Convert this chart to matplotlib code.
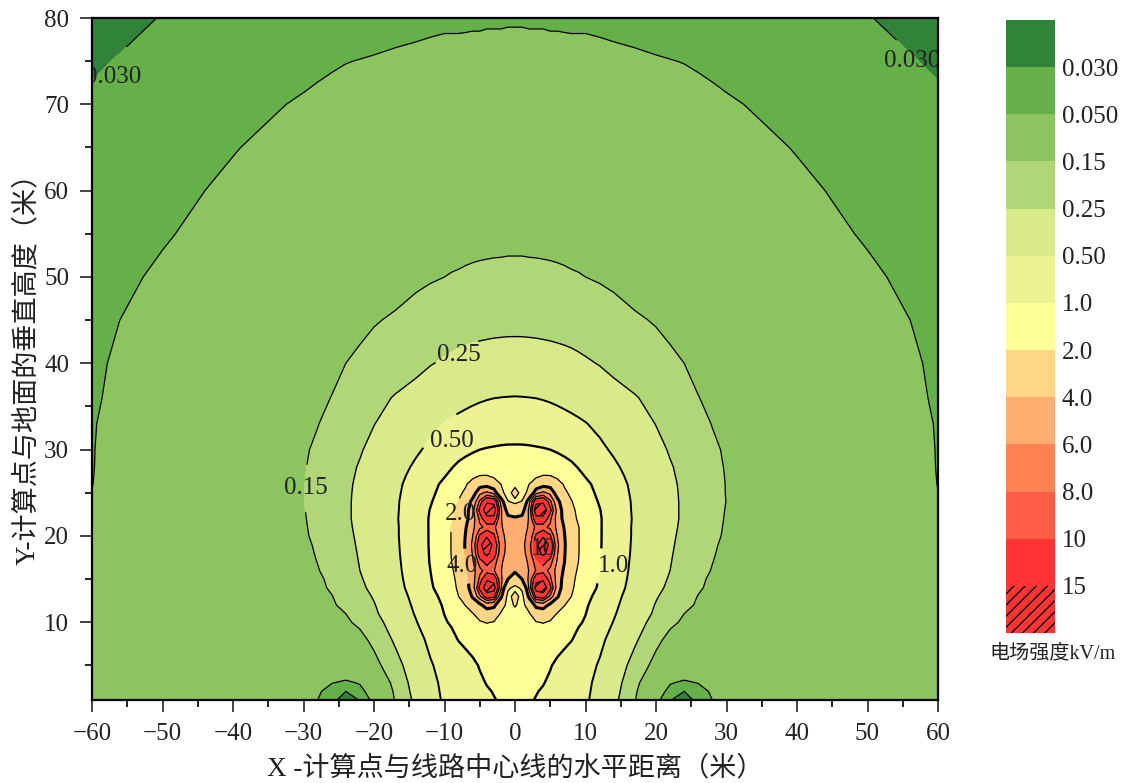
import numpy as np
import matplotlib
matplotlib.use("Agg")
import matplotlib.pyplot as plt
from matplotlib.ticker import MultipleLocator

plt.rcParams['font.family'] = ['Liberation Serif', 'Noto Sans CJK SC', 'DejaVu Sans']
plt.rcParams['hatch.linewidth'] = 1.0
plt.rcParams['contour.negative_linestyle'] = 'solid'

# contour levels (kV/m) and their labels
levels = [0.03, 0.05, 0.15, 0.25, 0.5, 1, 2, 4, 6, 8, 10, 15]
level_labels = ["0.030", "0.050", "0.15", "0.25", "0.50", "1.0", "2.0", "4.0", "6.0", "8.0", "10", "15"]
band_colors = ["#32833a", "#66b04a", "#8cc45f", "#b0d677", "#d8ea8a", "#edf392", "#ffff99",
               "#ffd685", "#ffad70", "#ff8255", "#ff5d48", "#ff3535", "#ff3535"]
line_widths = [0.9, 0.9, 0.9, 1.0, 1.4, 1.7, 0.9, 2.2, 0.9, 0.9, 0.9, 0.9]

# field, x >= 0 only (the chart is mirrored about x = 0)
x_half = [0, 1, 2, 3, 4, 5, 6, 7, 8, 9, 10, 12, 14, 17, 20, 22, 24, 26, 28, 30, 40, 50, 60]
y_vals = [1, 2, 3, 5, 8, 10, 11, 12, 13, 14, 15, 16, 17, 18, 19, 20, 21, 22, 23, 24, 25, 26, 27, 28,
          30, 33, 36, 40, 45, 50, 55, 60, 65, 70, 75, 80]
field_half = [
    [1.12, 1.09, 1.04, .98, .91, .84, .78, .72, .665, .61, .54, .40, .285, .155, .06, .031, .022, .036, .05, .06, .078, .072, .062],
    [1.13, 1.11, 1.07, 1.02, .96, .88, .80, .74, .67, .62, .55, .42, .30, .165, .066, .043, .030, .041, .054, .064, .08, .073, .063],
    [1.14, 1.12, 1.09, 1.06, 1.02, .93, .84, .76, .69, .63, .56, .436, .311, .177, .085, .052, .046, .051, .062, .07, .083, .075, .064],
    [1.17, 1.16, 1.14, 1.12, 1.09, 1.03, .91, .82, .74, .67, .60, .476, .342, .208, .127, .092, .08, .082, .085, .088, .09, .08, .068],
    [1.28, 1.28, 1.3, 1.32, 1.33, 1.3, 1.22, 1.12, 1.02, .89, .76, .564, .419, .269, .17, .13, .107, .1, .098, .098, .088, .076, .063],
    [1.4, 1.4, 1.6, 1.95, 2.05, 1.9, 1.55, 1.3, 1.15, 1.05, .96, .66, .49, .31, .21, .165, .14, .125, .115, .105, .082, .066, .057],
    [1.7, 1.6, 1.9, 2.85, 3.0, 2.5, 1.95, 1.6, 1.3, 1.1, 1.01, .738, .526, .341, .23, .17, .15, .137, .125, .117, .085, .067, .057],
    [2.1, 1.7, 2.6, 4.6, 5.0, 3.6, 2.7, 2.05, 1.6, 1.3, 1.06, .80, .558, .361, .243, .2, .165, .143, .13, .12, .087, .068, .0575],
    [2.4, 1.7, 4.5, 11, 12, 7.5, 4.3, 2.7, 2.0, 1.5, 1.15, .85, .59, .385, .26, .21, .175, .148, .134, .123, .089, .069, .058],
    [1.75, 2.2, 6.5, 18, 20, 11, 5.2, 3.2, 2.2, 1.65, 1.3, .93, .64, .406, .28, .228, .19, .157, .138, .127, .09, .07, .058],
    [3.0, 4.0, 6.5, 13, 14, 8.5, 5.2, 3.4, 2.3, 1.75, 1.35, .97, .67, .42, .29, .24, .195, .163, .14, .13, .092, .071, .0585],
    [4.3, 4.9, 6.1, 8.2, 8.8, 7.5, 5.3, 3.75, 2.55, 1.85, 1.4, 1.0, .70, .43, .30, .25, .20, .17, .147, .132, .094, .072, .059],
    [4.8, 5.2, 6.3, 9.2, 11, 9, 5.8, 4.05, 2.75, 2.0, 1.45, 1.03, .71, .44, .31, .255, .21, .175, .151, .135, .096, .073, .0595],
    [5.1, 5.4, 6.8, 12, 17, 12, 6.2, 4.15, 2.85, 2.05, 1.5, 1.04, .72, .45, .32, .26, .215, .18, .154, .138, .098, .074, .06],
    [5.3, 5.5, 7, 13, 22, 13, 6.5, 4.2, 2.9, 2.05, 1.55, 1.05, .73, .455, .325, .265, .22, .185, .157, .14, .1, .074, .059],
    [5.3, 5.5, 6.5, 10.5, 14, 10.5, 6.0, 4.1, 2.85, 2.05, 1.55, 1.05, .74, .46, .335, .27, .225, .19, .162, .143, .1, .074, .058],
    [5.0, 5.3, 6.2, 8.6, 8.5, 7.6, 5.6, 3.9, 2.7, 2.05, 1.5, 1.05, .745, .46, .34, .275, .23, .195, .166, .144, .101, .074, .0565],
    [4.3, 4.5, 6.2, 13, 13, 8.5, 5.2, 3.5, 2.45, 1.85, 1.4, 1.05, .75, .466, .343, .28, .233, .2, .171, .145, .102, .074, .055],
    [2.95, 3.3, 6.5, 20, 20, 11, 5.4, 3.3, 2.3, 1.75, 1.35, 1.02, .74, .46, .342, .28, .233, .2, .172, .147, .103, .074, .054],
    [1.75, 2.05, 5.5, 13, 14, 8.5, 4.6, 2.9, 2.05, 1.65, 1.3, .96, .72, .457, .34, .279, .233, .2, .173, .149, .105, .0736, .053],
    [2.6, 1.6, 2.35, 5.5, 6.5, 5.5, 3.2, 2.2, 1.8, 1.45, 1.2, .90, .68, .447, .335, .276, .232, .2, .172, .148, .105, .074, .0502],
    [1.7, 1.65, 2.0, 2.7, 3.4, 3.3, 2.5, 1.9, 1.6, 1.32, 1.12, .84, .64, .438, .329, .272, .23, .198, .17, .148, .1045, .074, .0497],
    [1.35, 1.4, 1.55, 1.8, 2.02, 2.0, 1.75, 1.5, 1.32, 1.12, .97, .76, .59, .42, .32, .265, .226, .195, .168, .147, .104, .0735, .0495],
    [1.25, 1.27, 1.32, 1.42, 1.5, 1.48, 1.38, 1.25, 1.12, .97, .86, .69, .543, .406, .31, .259, .222, .19, .165, .146, .103, .0735, .0493],
    [1.08, 1.08, 1.07, 1.05, 1.03, 1.0, .93, .86, .79, .73, .67, .553, .468, .366, .286, .24, .212, .183, .16, .143, .101, .072, .0492],
    [.735, .73, .72, .705, .685, .66, .632, .60, .57, .54, .51, .447, .385, .308, .247, .217, .19, .169, .148, .139, .098, .07, .0488],
    [.51, .507, .503, .497, .485, .47, .452, .433, .414, .396, .378, .324, .296, .258, .218, .193, .171, .151, .141, .131, .095, .068, .0475],
    [.327, .326, .323, .319, .314, .308, .30, .292, .283, .273, .263, .245, .221, .193, .173, .16, .15, .139, .13, .122, .088, .0644, .0466],
    [.212, .212, .211, .21, .208, .206, .204, .202, .2, .196, .192, .182, .172, .157, .146, .138, .13, .123, .117, .111, .08, .06, .0444],
    [.168, .168, .167, .166, .165, .163, .161, .158, .155, .153, .15, .145, .139, .128, .118, .112, .106, .1, .095, .09, .069, .0535, .0418],
    [.133, .133, .132, .132, .131, .131, .130, .130, .129, .128, .128, .125, .12, .112, .104, .099, .094, .089, .084, .079, .06, .048, .0395],
    [.108, .108, .108, .107, .107, .107, .106, .106, .106, .105, .105, .103, .1, .095, .089, .085, .081, .076, .072, .068, .054, .0445, .0376],
    [.0885, .0885, .088, .088, .088, .087, .087, .087, .086, .086, .086, .084, .082, .078, .074, .071, .068, .065, .062, .059, .049, .042, .0357],
    [.072, .072, .072, .072, .071, .071, .071, .071, .070, .070, .070, .069, .068, .065, .062, .060, .058, .056, .054, .052, .0443, .0379, .0315],
    [.0605, .0605, .060, .060, .060, .059, .059, .059, .058, .058, .058, .057, .055, .0535, .0515, .0505, .0495, .048, .0465, .045, .0388, .0334, .0288],
    [.0475, .0475, .047, .047, .047, .0465, .0465, .046, .046, .046, .046, .045, .0445, .043, .042, .041, .040, .0392, .0385, .038, .034, .0305, .025],
]

# points on the contour that gets a label, and where the label text is centred
label_on_line = [(-57.4, 73.6), (57.2, 75.0), (-29.8, 25.5), (-8.0, 41.0),
                 (-9.0, 31.0), (12.3, 16.5), (-9.1, 22.5), (-6.9, 16.5), (3.0, 18.0)]
label_centres = [(-57.0, 73.2), (56.4, 75.0), (-29.6, 25.5), (-8.0, 41.0),
                 (-9.0, 31.0), (14.0, 16.5), (-7.8, 22.5), (-7.5, 16.5), (4.0, 18.5)]

x_half = np.array(x_half, dtype=float)
half = np.array(field_half)
x = np.concatenate([-x_half[:0:-1], x_half])
z = np.log10(np.hstack([half[:, :0:-1], half]))
log_levels = np.log10(levels)

fig = plt.figure(figsize=(11.25, 7.83), dpi=100)
W, H = 1125.0, 783.0
ax = fig.add_axes([92 / W, 1 - 700 / H, 846 / W, 682 / H])

ax.contourf(x, y_vals, z, levels=log_levels, colors=band_colors, extend='both',
            hatches=[None] * 12 + ['///'])
cs = ax.contour(x, y_vals, z, levels=log_levels, colors='black', linewidths=line_widths)

ax.set_xlim(-60, 60)
ax.set_ylim(1, 80)

# manual labels: each point snaps to the nearest contour
fmt = {lv: lab for lv, lab in zip(cs.levels, level_labels)}
ax.clabel(cs, fmt=fmt, fontsize=18, inline=True, inline_spacing=2, manual=label_on_line, colors='#222222')
for t, pos in zip(cs.labelTexts, label_centres):
    t.set_rotation(0)
    t.set_position(pos)
    t.set_clip_on(True)
    t.set_clip_box(ax.bbox)

ax.xaxis.set_major_locator(MultipleLocator(10))
ax.xaxis.set_minor_locator(MultipleLocator(5))
ax.yaxis.set_major_locator(MultipleLocator(10))
ax.yaxis.set_minor_locator(MultipleLocator(5))
ax.tick_params(which='major', length=8.5, width=1.2, labelsize=18, colors='#222222')
ax.tick_params(axis='x', which='major', pad=8)
ax.tick_params(axis='y', which='major', pad=8)
ax.tick_params(which='minor', length=5, width=1.2)
for s in ax.spines.values():
    s.set_linewidth(1.6)
ax.set_xlabel("X -计算点与线路中心线的水平距离（米）", fontsize=19.5, color='#222222', va='center')
ax.xaxis.set_label_coords((515 - 92) / 846, -(769 - 700) / 682)
ax.set_ylabel("Y-计算点与地面的垂直高度（米）", fontsize=19.5, color='#222222', va='center')
ax.yaxis.set_label_coords((27 - 92) / 846, (700 - 362) / 682)

# legend column, one swatch per band
cax = fig.add_axes([1006 / W, 1 - 633 / H, 49 / W, 613 / H])
for i, c in enumerate(band_colors):
    cax.bar(0, 1, bottom=i, width=1, color=c, linewidth=0, edgecolor='black',
            hatch='///' if i == len(band_colors) - 1 else None)
cax.set_xlim(-0.5, 0.5)
cax.set_ylim(len(band_colors), 0)
cax.set_xticks([])
cax.set_yticks(range(1, len(band_colors)))
cax.set_yticklabels(level_labels)
cax.yaxis.tick_right()
cax.tick_params(length=0, labelsize=18, pad=5, colors='#222222')
for s in cax.spines.values():
    s.set_visible(False)
fig.text(1053 / W, 1 - 654 / H, "电场强度kV/m", fontsize=14.5, ha='center', va='center', color='#222222')

fig.savefig("out.png", dpi=100)
